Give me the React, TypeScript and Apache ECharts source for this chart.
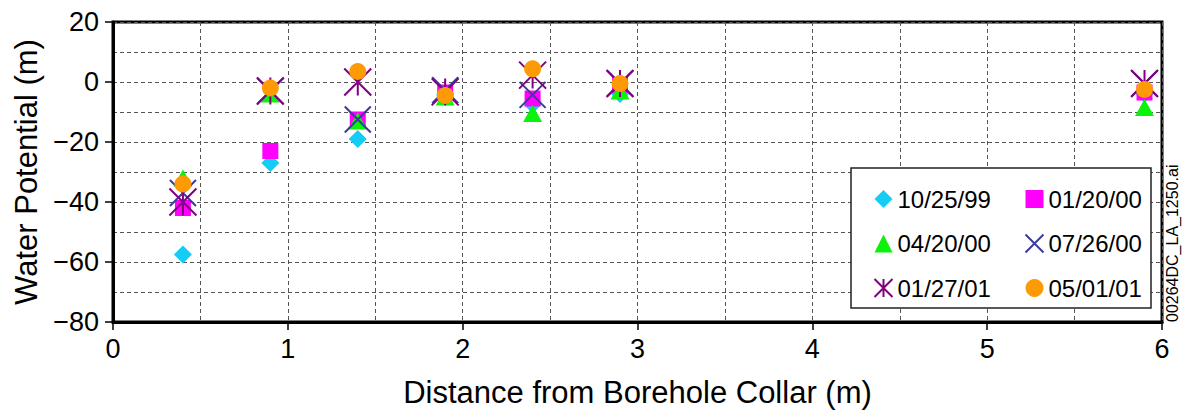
import React, { useEffect, useRef } from "react";
import * as echarts from "echarts";

// Distances from the borehole collar (m) at which water potential was measured
const distances = [0.4, 0.9, 1.4, 1.9, 2.4, 2.9, 5.9];

// Water potential (m) per survey date, one value per distance
const oct1999 = [-57.5, -27, -19, -4, -7.5, -4, -4];
const jan2000 = [-42, -23, -12.5, -3.5, -5.5, -1, -3.5];
const apr2000 = [-32, -4, -13, -5, -10.5, -3, -8.5];
const jul2000 = [-37, -3, -12.5, -2.7, -4.3, -0.5, -0.5];
const jan2001 = [-40, -3, 0, -3.3, 2.3, -0.5, -0.5];
const may2001 = [-34, -2, 3.5, -4.5, 4.4, -0.5, -2.5];

const seriesNames = ["10/25/99", "01/20/00", "04/20/00", "07/26/00", "01/27/01", "05/01/01"];
const seriesValues = [oct1999, jan2000, apr2000, jul2000, jan2001, may2001];

const xTicks = [0, 1, 2, 3, 4, 5, 6];
const yTicks = [-80, -60, -40, -20, 0, 20];

const FONT = "'Liberation Sans', Arial, Helvetica, sans-serif";
const minus = (v: number) => String(v).replace("-", "\u2212");

export default function App() {
  const ref = useRef<HTMLDivElement>(null);

  useEffect(() => {
    if (!ref.current) return;
    const chart = echarts.init(ref.current, undefined, { renderer: "svg" });

    const styles = [
      { symbol: "diamond", symbolSize: 18, itemStyle: { color: "#14CCF5", opacity: 1 } },
      { symbol: "rect", symbolSize: 16, itemStyle: { color: "#FF00FF", opacity: 1 } },
      { symbol: "triangle", symbolSize: [19, 17], itemStyle: { color: "#0CF20C", opacity: 1 } },
      {
        symbol: "path://M0,0L20,20M20,0L0,20",
        symbolSize: 26,
        itemStyle: { color: "none", borderColor: "#3B3B9E", borderWidth: 2, opacity: 1 },
      },
      {
        symbol: "path://M0,0L20,20M20,0L0,20M10,0L10,20",
        symbolSize: 27,
        itemStyle: { color: "none", borderColor: "#800080", borderWidth: 2, opacity: 1 },
      },
      { symbol: "circle", symbolSize: 17, itemStyle: { color: "#FD9A05", opacity: 1 } },
    ];

    const series = seriesNames.map((name, i) => ({
      name,
      type: "scatter",
      data: distances.map((d, j) => [d, seriesValues[i][j]]),
      silent: true,
      z: 2 + i * 0.01,
      ...styles[i],
    }));

    const legendCommon = {
      orient: "vertical",
      itemWidth: 18,
      itemHeight: 18,
      itemGap: 20.5,
      selectedMode: false,
      top: 182,
      z: 6,
      textStyle: { fontFamily: FONT, fontSize: 24, color: "#000" },
    };

    const gridLine = { show: true, lineStyle: { color: "#555", type: [4, 3], width: 1 } };

    chart.setOption({
      animation: false,
      backgroundColor: "#fff",
      textStyle: { fontFamily: FONT },
      grid: {
        left: 113,
        top: 22,
        width: 1049,
        height: 300,
        show: true,
        borderColor: "#000",
        borderWidth: 3,
        backgroundColor: "transparent",
      },
      xAxis: {
        type: "value",
        min: xTicks[0],
        max: xTicks[xTicks.length - 1],
        interval: 1,
        name: "Distance from Borehole Collar (m)",
        nameLocation: "middle",
        nameGap: 55,
        nameTextStyle: { fontFamily: FONT, fontSize: 31, color: "#000" },
        axisLine: { show: true, onZero: false, lineStyle: { color: "#000", width: 3 } },
        axisTick: { show: true, inside: false, length: 8, lineStyle: { color: "#000", width: 1.5 } },
        axisLabel: { fontFamily: FONT, fontSize: 27, color: "#000", margin: 13 },
        splitLine: gridLine,
        minorTick: { show: false, splitNumber: 2 },
        minorSplitLine: gridLine,
      },
      yAxis: {
        type: "value",
        min: yTicks[0],
        max: yTicks[yTicks.length - 1],
        interval: 20,
        name: "Water Potential (m)",
        nameLocation: "middle",
        nameGap: 68,
        nameTextStyle: { fontFamily: FONT, fontSize: 31, color: "#000" },
        axisLine: { show: true, onZero: false, lineStyle: { color: "#000", width: 3 } },
        axisTick: { show: true, inside: false, length: 8, lineStyle: { color: "#000", width: 1.5 } },
        axisLabel: {
          fontFamily: FONT,
          fontSize: 27,
          color: "#000",
          margin: 14,
          formatter: (v: number) => minus(v),
        },
        splitLine: gridLine,
        minorTick: { show: false, splitNumber: 2 },
        minorSplitLine: gridLine,
      },
      legend: [
        { ...legendCommon, left: 867, data: [seriesNames[0], seriesNames[2], seriesNames[4]] },
        { ...legendCommon, left: 1018, data: [seriesNames[1], seriesNames[3], seriesNames[5]] },
      ],
      graphic: [
        {
          type: "rect",
          z: 5,
          shape: { x: 851, y: 168, width: 300, height: 140 },
          style: { fill: "#fff", stroke: "#222", lineWidth: 1.5 },
        },
        {
          type: "text",
          z: 5,
          x: 1180,
          y: 322,
          rotation: Math.PI / 2,
          style: {
            text: "00264DC_LA_1250.ai",
            fontFamily: FONT,
            fontSize: 16,
            fill: "#000",
            textAlign: "left",
            textVerticalAlign: "bottom",
          },
        },
      ],
      series,
    });

    return () => chart.dispose();
  }, []);

  return (
    <div
      ref={ref}
      style={{ position: "fixed", left: 0, top: 0, width: 1182, height: 413 }}
    />
  );
}
